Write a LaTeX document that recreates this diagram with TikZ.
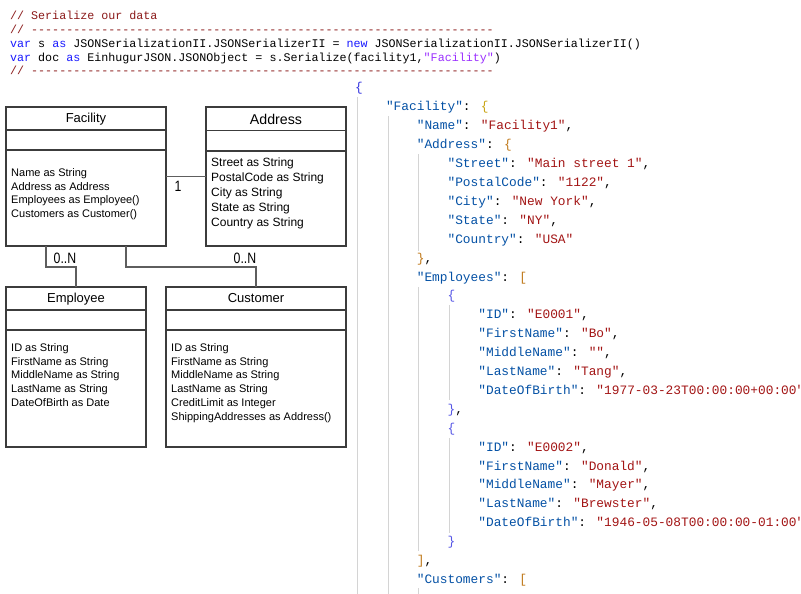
\documentclass[tikz,border=0pt]{standalone}
\usepackage{fontspec}
\setmainfont{Liberation Sans}
\newfontfamily\codefont{Liberation Mono}[Ligatures=TeXOff]
\usetikzlibrary{positioning}
\definecolor{boxline}{HTML}{3C3C3C}
\definecolor{linkline}{HTML}{5E5E5E}
\definecolor{comment}{HTML}{8B1A1A}
\definecolor{kw}{HTML}{1A1AFF}
\definecolor{str}{HTML}{9B30FF}
\definecolor{jkey}{HTML}{0451A5}
\definecolor{jval}{HTML}{A31515}
\definecolor{brace0}{HTML}{3535E0}
\definecolor{brace1}{HTML}{C9A413}
\definecolor{brace2}{HTML}{C07A1C}
\definecolor{brace3}{HTML}{5656E6}
\definecolor{guidegray}{HTML}{D4D4D4}
\newcommand{\K}[1]{\textcolor{jkey}{"#1"}}
\newcommand{\V}[1]{\textcolor{jval}{"#1"}}

\begin{document}
\begin{tikzpicture}[x=1pt,y=-1pt,
  box/.style={draw=boxline,line width=1.2pt,inner sep=0pt,outer sep=0pt,anchor=north west},
  sep/.style={draw=boxline,line width=1.2pt},
  classname/.style={anchor=base,inner sep=0pt,font=\fontsize{13}{15}\selectfont},
  attrs/.style={anchor=north west,inner sep=0pt,align=left,font=\fontsize{11}{13.9}\selectfont},
  link/.style={draw=linkline,line width=1.2pt},
  mult/.style={anchor=base,inner sep=0pt,xscale=.82,font=\fontsize{15}{17}\selectfont},
  code/.style={anchor=base west,inner sep=0pt,font=\codefont\fontsize{11.68}{14}\selectfont},
  json/.style={anchor=base west,inner sep=0pt,font=\codefont\fontsize{12.83}{15}\selectfont},
  guide/.style={draw=guidegray,line width=.9pt}
]
\useasboundingbox (0,0) rectangle (801,594);
\clip (0,0) rectangle (801,594);
\fill[white] (0,0) rectangle (801,594);

% code that serializes
\node[code] (cmt) at (10,20) {\textcolor{comment}{// Serialize our data}};
\node[code] (rule1) at (10,34)
  {\textcolor{comment}{// ------------------------------------------------------------------}};
\node[code] (line1) at (10,47.5) {\textcolor{kw}{var} s \textcolor{kw}{as}
  JSONSerializationII.JSONSerializerII = \textcolor{kw}{new} JSONSerializationII.JSONSerializerII()};
\node[code] (line2) at (10,61.3) {\textcolor{kw}{var} doc \textcolor{kw}{as}
  EinhugurJSON.JSONObject = s.Serialize(facility1,\textcolor{str}{"Facility"})};
\node[code] (rule2) at (10,75)
  {\textcolor{comment}{// ------------------------------------------------------------------}};

% class diagram
\node[box,minimum width=160pt,minimum height=139pt] (fac) at (6,107) {};
\node[box,minimum width=140pt,minimum height=139pt] (addr) at (206,107) {};
\node[box,minimum width=140pt,minimum height=160pt] (emp) at (6,287) {};
\node[box,minimum width=180pt,minimum height=160pt] (cust) at (166,287) {};
\draw[sep] ([yshift=-23pt]fac.north west) -- ([yshift=-23pt]fac.north east);
\draw[sep] ([yshift=-43pt]fac.north west) -- ([yshift=-43pt]fac.north east);
\draw[sep] ([yshift=-23.5pt]addr.north west) -- ([yshift=-23.5pt]addr.north east);
\draw[sep] ([yshift=-44pt]addr.north west) -- ([yshift=-44pt]addr.north east);
\draw[sep] ([yshift=-23pt]emp.north west) -- ([yshift=-23pt]emp.north east);
\draw[sep] ([yshift=-43pt]emp.north west) -- ([yshift=-43pt]emp.north east);
\draw[sep] ([yshift=-23pt]cust.north west) -- ([yshift=-23pt]cust.north east);
\draw[sep] ([yshift=-43pt]cust.north west) -- ([yshift=-43pt]cust.north east);

\node[classname] (factitle) at (86,122.6) {Facility};
\node[classname,font=\fontsize{14.2}{16}\selectfont] (addrtitle) at (276,124.1) {Address};
\node[classname] (emptitle) at (76,302.6) {Employee};
\node[classname] (custtitle) at (256,302.6) {Customer};

\node[attrs] (facattr) at (11,168)
  {Name as String\\Address as Address\\Employees as Employee()\\Customers as Customer()};
\node[attrs,font=\fontsize{12}{15}\selectfont] (addrattr) at (211,157.6)
  {Street as String\\PostalCode as String\\City as String\\State as String\\Country as String};
\node[attrs] (empattr) at (11,343)
  {ID as String\\FirstName as String\\MiddleName as String\\LastName as String\\DateOfBirth as Date};
\node[attrs] (custattr) at (171,343)
  {ID as String\\FirstName as String\\MiddleName as String\\LastName as String\\CreditLimit as Integer\\ShippingAddresses as Address()};

\draw[link] (fac.east) -- (addr.west);
\node[mult] (addrmult) at (178,191.5) {1};
\draw[link] ([xshift=40pt]fac.south west) |- ([yshift=20pt]emp.north) -- (emp.north);
\node[mult] (empmult) at (65,263.3) {0..N};
\draw[link] ([xshift=120pt]fac.south west) |- ([yshift=20pt]cust.north) -- (cust.north);
\node[mult] (custmult) at (245,263.3) {0..N};

% indent guides
\draw[guide] (357.5,97) -- (357.5,594);
\draw[guide] (388.5,116) -- (388.5,594);
\draw[guide] (418.5,154) -- (418.5,251);
\draw[guide] (418.5,287) -- (418.5,551);
\draw[guide] (418.5,588) -- (418.5,594);
\draw[guide] (449,305) -- (449,400);
\draw[guide] (449,438) -- (449,533);

% resulting json
\node[json] (j0) at (355,92) {\textcolor{brace0}{\{}};
\node[json] (j1) at (385.8,110.9) {\K{Facility}: \textcolor{brace1}{\{}};
\node[json] (j2) at (416.6,129.8) {\K{Name}: \V{Facility1},};
\node[json] (j3) at (416.6,148.7) {\K{Address}: \textcolor{brace2}{\{}};
\node[json] (j4) at (447.4,167.6) {\K{Street}: \V{Main street 1},};
\node[json] (j5) at (447.4,186.5) {\K{PostalCode}: \V{1122},};
\node[json] (j6) at (447.4,205.4) {\K{City}: \V{New York},};
\node[json] (j7) at (447.4,224.3) {\K{State}: \V{NY},};
\node[json] (j8) at (447.4,243.2) {\K{Country}: \V{USA}};
\node[json] (j9) at (416.6,262.1) {\textcolor{brace2}{\}},};
\node[json] (j10) at (416.6,281) {\K{Employees}: \textcolor{brace2}{[}};
\node[json] (j11) at (447.4,299.9) {\textcolor{brace3}{\{}};
\node[json] (j12) at (478.2,318.8) {\K{ID}: \V{E0001},};
\node[json] (j13) at (478.2,337.7) {\K{FirstName}: \V{Bo},};
\node[json] (j14) at (478.2,356.6) {\K{MiddleName}: \V{},};
\node[json] (j15) at (478.2,375.5) {\K{LastName}: \V{Tang},};
\node[json] (j16) at (478.2,394.4) {\K{DateOfBirth}: \V{1977-03-23T00:00:00+00:00}};
\node[json] (j17) at (447.4,413.3) {\textcolor{brace3}{\}},};
\node[json] (j18) at (447.4,432.2) {\textcolor{brace3}{\{}};
\node[json] (j19) at (478.2,451.1) {\K{ID}: \V{E0002},};
\node[json] (j20) at (478.2,470) {\K{FirstName}: \V{Donald},};
\node[json] (j21) at (478.2,488.9) {\K{MiddleName}: \V{Mayer},};
\node[json] (j22) at (478.2,507.8) {\K{LastName}: \V{Brewster},};
\node[json] (j23) at (478.2,526.7) {\K{DateOfBirth}: \V{1946-05-08T00:00:00-01:00}};
\node[json] (j24) at (447.4,545.6) {\textcolor{brace3}{\}}};
\node[json] (j25) at (416.6,564.5) {\textcolor{brace2}{]},};
\node[json] (j26) at (416.6,583.4) {\K{Customers}: \textcolor{brace2}{[}};
\end{tikzpicture}
\end{document}
